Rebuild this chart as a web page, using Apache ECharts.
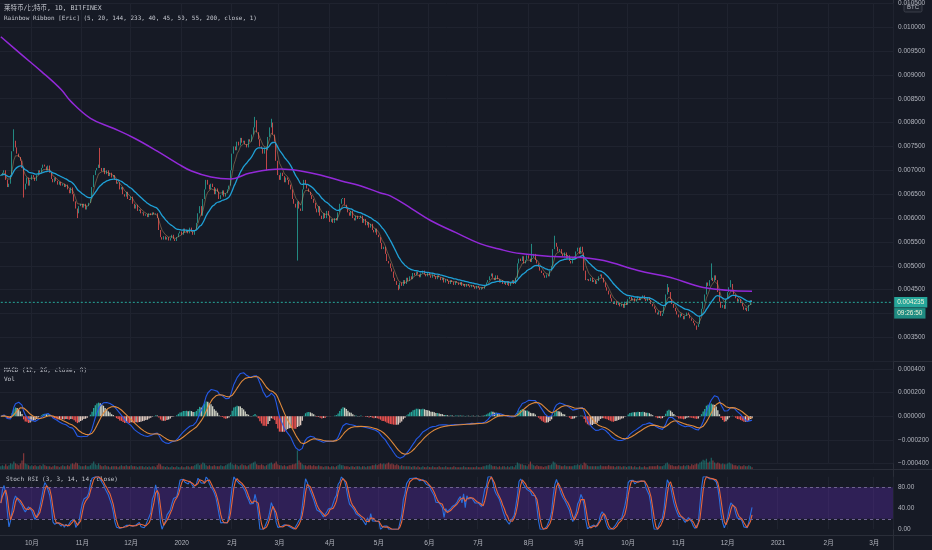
<!DOCTYPE html>
<html><head><meta charset="utf-8">
<script src="https://cdn.jsdelivr.net/npm/echarts@6/dist/echarts.min.js"></script>
<style>html,body{margin:0;padding:0;background:#161a25;}#c{width:932px;height:550px;}</style>
</head><body><div id="c"></div>
<script>
// ---------- data ----------
const startDate = Date.UTC(2019, 8, 12);   // first category day
const dayCount = 548;                       // 2019-09-12 .. 2021-03-12
const firstOpen = 0.00688;
const closes = [
0.00690,0.00695,0.00700,0.00680,0.00665,0.00672,0.00690,0.00740,0.00762,0.00748,
0.00735,0.00728,0.00720,0.00705,0.00660,0.00672,0.00685,0.00668,0.00680,0.00690,
0.00685,0.00678,0.00690,0.00700,0.00695,0.00705,0.00712,0.00708,0.00700,0.00710,
0.00695,0.00682,0.00675,0.00685,0.00678,0.00670,0.00676,0.00668,0.00672,0.00665,
0.00670,0.00660,0.00652,0.00664,0.00650,0.00635,0.00620,0.00610,0.00625,0.00630,
0.00622,0.00630,0.00618,0.00625,0.00632,0.00640,0.00665,0.00690,0.00700,0.00705,
0.00712,0.00705,0.00698,0.00705,0.00692,0.00700,0.00688,0.00695,0.00685,0.00690,
0.00680,0.00672,0.00675,0.00660,0.00665,0.00650,0.00645,0.00655,0.00640,0.00638,
0.00645,0.00630,0.00620,0.00628,0.00615,0.00618,0.00610,0.00612,0.00605,0.00608,
0.00602,0.00610,0.00606,0.00612,0.00608,0.00610,0.00600,0.00575,0.00560,0.00555,
0.00562,0.00555,0.00560,0.00553,0.00558,0.00565,0.00556,0.00552,0.00560,0.00568,
0.00572,0.00565,0.00578,0.00570,0.00575,0.00568,0.00580,0.00572,0.00565,0.00575,
0.00590,0.00610,0.00625,0.00605,0.00640,0.00660,0.00680,0.00670,0.00660,0.00672,
0.00665,0.00650,0.00662,0.00655,0.00640,0.00648,0.00658,0.00645,0.00652,0.00660,
0.00668,0.00700,0.00735,0.00750,0.00742,0.00760,0.00752,0.00768,0.00758,0.00762,
0.00755,0.00748,0.00765,0.00760,0.00775,0.00790,0.00805,0.00780,0.00765,0.00750,
0.00745,0.00735,0.00748,0.00742,0.00770,0.00790,0.00800,0.00775,0.00760,0.00720,
0.00690,0.00680,0.00695,0.00688,0.00675,0.00685,0.00680,0.00670,0.00660,0.00640,
0.00630,0.00622,0.00635,0.00620,0.00615,0.00660,0.00680,0.00670,0.00662,0.00655,
0.00648,0.00640,0.00632,0.00620,0.00612,0.00625,0.00605,0.00598,0.00610,0.00600,
0.00615,0.00605,0.00592,0.00598,0.00590,0.00600,0.00595,0.00612,0.00630,0.00640,
0.00642,0.00628,0.00620,0.00612,0.00605,0.00615,0.00600,0.00595,0.00605,0.00598,
0.00600,0.00605,0.00590,0.00598,0.00585,0.00592,0.00580,0.00588,0.00575,0.00570,
0.00578,0.00565,0.00560,0.00548,0.00535,0.00540,0.00525,0.00510,0.00505,0.00495,
0.00488,0.00475,0.00468,0.00460,0.00452,0.00465,0.00458,0.00470,0.00462,0.00475,
0.00468,0.00478,0.00472,0.00485,0.00480,0.00488,0.00482,0.00476,0.00484,0.00490,
0.00482,0.00478,0.00486,0.00480,0.00475,0.00482,0.00478,0.00472,0.00480,0.00476,
0.00470,0.00475,0.00465,0.00472,0.00468,0.00462,0.00470,0.00466,0.00460,0.00468,
0.00465,0.00460,0.00466,0.00458,0.00462,0.00456,0.00462,0.00458,0.00455,0.00460,
0.00456,0.00452,0.00458,0.00454,0.00450,0.00455,0.00452,0.00458,0.00465,0.00470,
0.00478,0.00484,0.00475,0.00470,0.00480,0.00472,0.00465,0.00470,0.00462,0.00466,
0.00460,0.00468,0.00458,0.00464,0.00470,0.00462,0.00475,0.00505,0.00515,0.00510,
0.00520,0.00505,0.00512,0.00522,0.00515,0.00508,0.00518,0.00525,0.00512,0.00505,
0.00498,0.00490,0.00485,0.00480,0.00475,0.00482,0.00478,0.00490,0.00500,0.00535,
0.00548,0.00540,0.00530,0.00535,0.00525,0.00520,0.00528,0.00515,0.00522,0.00510,
0.00505,0.00515,0.00520,0.00530,0.00538,0.00525,0.00540,0.00528,0.00490,0.00470,
0.00472,0.00468,0.00475,0.00466,0.00470,0.00462,0.00468,0.00478,0.00482,0.00475,
0.00465,0.00455,0.00448,0.00440,0.00432,0.00425,0.00420,0.00426,0.00418,0.00422,
0.00415,0.00420,0.00412,0.00425,0.00418,0.00430,0.00435,0.00428,0.00432,0.00425,
0.00430,0.00435,0.00428,0.00432,0.00438,0.00430,0.00426,0.00434,0.00428,0.00420,
0.00415,0.00410,0.00402,0.00398,0.00405,0.00395,0.00400,0.00415,0.00440,0.00455,
0.00445,0.00430,0.00420,0.00412,0.00405,0.00398,0.00392,0.00400,0.00395,0.00388,
0.00395,0.00402,0.00398,0.00390,0.00385,0.00380,0.00375,0.00372,0.00378,0.00395,
0.00410,0.00425,0.00440,0.00465,0.00458,0.00470,0.00475,0.00468,0.00480,0.00470,
0.00445,0.00425,0.00412,0.00418,0.00410,0.00430,0.00445,0.00455,0.00462,0.00450,
0.00440,0.00432,0.00425,0.00430,0.00422,0.00415,0.00408,0.00412,0.00405,0.00418,
0.00428,0.004235
];
const wickHighs = [
['2019-09-20',0.00786],['2019-11-12',0.00747],['2020-02-15',0.00812],['2020-02-25',0.00808],
['2020-08-03',0.00546],['2020-08-17',0.00563],['2020-10-25',0.00462],['2020-11-21',0.00505],
['2020-12-03',0.00470]
];
const wickLows = [
['2019-09-26',0.00643],['2019-10-29',0.00600],['2020-02-22',0.00700],['2020-03-12',0.00511],
['2020-05-13',0.00449],['2020-11-12',0.00366]
];
const volumes = [
3,4,3,5,3,4,6,5,8,6, 5,4,6,9,17,6,5,4,3,4, 3,4,3,3,4,3,5,4,3,3, 3,2,3,4,3,3,2,3,4,3,
3,4,3,5,6,5,7,6,4,3, 3,3,4,3,3,4,6,8,5,4, 6,4,3,3,4,3,3,2,3,3, 3,3,2,3,4,3,3,4,3,3,
4,3,3,3,2,3,3,3,2,3, 2,3,2,3,3,2,4,6,5,3, 3,2,3,2,2,3,2,2,3,2, 2,3,2,2,3,3,2,3,3,4,
5,6,4,5,7,6,4,3,4,3, 3,4,3,3,3,4,3,3,4,5, 6,7,5,4,5,4,3,4,5,4, 4,3,4,5,6,7,8,5,4,4,
5,4,3,4,5,6,7,5,6,8, 5,4,4,3,4,3,3,4,4,5, 5,6,20,9,7,5,4,4,3,4, 4,3,4,3,3,4,3,3,2,3,
3,3,2,3,3,2,3,4,5,4, 4,3,3,3,2,3,3,2,3,3, 3,2,3,3,2,3,3,3,4,4, 5,4,5,6,5,6,5,6,7,5,
6,5,4,5,4,3,4,3,3,3, 3,3,2,3,3,2,3,2,2,3, 2,2,3,2,2,3,2,2,2,3, 2,2,2,3,2,2,2,2,3,2,
2,2,2,2,3,2,2,2,2,2, 2,2,3,2,2,2,3,3,4,4, 5,4,3,3,3,2,3,2,3,3, 2,3,2,3,3,2,4,7,6,5,
5,4,4,3,5,8,5,4,3,4, 3,3,3,2,3,3,4,4,5,8, 7,5,4,4,3,3,4,3,3,3, 3,3,4,4,5,4,5,4,7,6,
4,3,3,3,3,3,3,3,4,3, 3,3,3,4,3,3,3,2,3,3, 3,2,3,3,2,3,3,3,2,3, 2,2,3,2,2,3,2,2,3,3,
3,3,3,4,3,3,3,4,6,7, 5,4,4,3,3,3,4,3,3,4, 3,4,4,3,5,4,5,6,5,7, 8,10,9,11,7,8,12,9,7,6,
7,6,5,6,5,5,6,7,6,5, 4,4,3,4,3,3,4,3,3,4, 3,2
];
// 200-period ribbon line
const ma200Points = [
['2019-09-12',0.009798],['2019-09-24',0.009444],['2019-10-07',0.009069],['2019-10-19',0.008694],
['2019-10-25',0.008444],['2019-11-06',0.008090],['2019-11-20',0.007881],['2019-12-03',0.007673],
['2019-12-17',0.007402],['2019-12-30',0.007131],['2020-01-07',0.006985],['2020-01-19',0.006860],
['2020-01-31',0.006819],['2020-02-12',0.006944],['2020-03-02',0.007027],['2020-03-14',0.006985],
['2020-03-26',0.006902],['2020-04-08',0.006777],['2020-04-20',0.006673],['2020-05-02',0.006527],
['2020-05-08',0.006465],['2020-05-21',0.006200],['2020-06-02',0.005944],['2020-06-17',0.005700],
['2020-07-02',0.005465],['2020-07-15',0.005340],['2020-07-27',0.005256],['2020-08-16',0.005194],
['2020-09-02',0.005173],['2020-09-16',0.005110],['2020-10-07',0.004902],['2020-10-27',0.004756],
['2020-11-16',0.004548],['2020-12-16',0.004465]
];
const timerText = '09:26:50';
const quoteUnit = 'BTC';
const titleText = '莱特币/比特币, 1D, BITFINEX';
const ribbonText = 'Rainbow Ribbon [Eric] (5, 20, 144, 233, 40, 45, 50, 55, 200, close, 1)';
const macdText = 'MACD (12, 26, close, 9)';
const volText = 'Vol';
const stochText = 'Stoch RSI (3, 3, 14, 14, close)';

// ---------- build ----------
const cats = [];
for (let i = 0; i < dayCount; i++) cats.push(new Date(startDate + i * 864e5).toISOString().slice(0, 10));
const idx = {}; cats.forEach((d, i) => idx[d] = i);
const hiMap = {}; wickHighs.forEach(([d, v]) => hiMap[idx[d]] = v);
const loMap = {}; wickLows.forEach(([d, v]) => loMap[idx[d]] = v);

const ohlc = closes.map((c, i) => {
  const o = i === 0 ? firstOpen : closes[i - 1];
  let h = Math.max(o, c), l = Math.min(o, c);
  if (hiMap[i] !== undefined) h = Math.max(h, hiMap[i]);
  if (loMap[i] !== undefined) l = Math.min(l, loMap[i]);
  return [o, c, l, h];
});

function ema(a, n) { const k = 2 / (n + 1); const out = []; let p = a[0]; a.forEach((v, i) => { p = i === 0 ? v : v * k + p * (1 - k); out.push(p); }); return out; }
function sma(a, n) { return a.map((v, i) => { const s = a.slice(Math.max(0, i - n + 1), i + 1); return s.reduce((x, y) => x + y, 0) / s.length; }); }

const ema5 = ema(closes, 5), ema20 = ema(closes, 20);
const e12 = ema(closes, 12), e26 = ema(closes, 26);
const macdLine = e12.map((v, i) => v - e26[i]);
const signal = ema(macdLine, 9);
const hist = macdLine.map((v, i) => v - signal[i]);
const histData = hist.map((h, i) => {
  const p = i ? hist[i - 1] : 0;
  const col = h >= 0 ? (h >= p ? '#26a69a' : '#cfd2c4') : (h < p ? '#ef5350' : '#e2cbc0');
  return { value: h, itemStyle: { color: col } };
});
const volData = volumes.map((v, i) => ({ value: v, itemStyle: { color: ohlc[i][1] >= ohlc[i][0] ? 'rgba(38,166,154,0.5)' : 'rgba(239,83,80,0.5)' } }));

// Stoch RSI (3,3,14,14)
const rsi = [50]; { let ag = 0, al = 0; for (let i = 1; i < closes.length; i++) { const ch = closes[i] - closes[i - 1]; const g = Math.max(ch, 0), l = Math.max(-ch, 0); if (i <= 14) { ag = (ag * (i - 1) + g) / i; al = (al * (i - 1) + l) / i; } else { ag = (ag * 13 + g) / 14; al = (al * 13 + l) / 14; } rsi.push(al === 0 ? 100 : 100 - 100 / (1 + ag / al)); } }
const stochRaw = rsi.map((v, i) => { const w = rsi.slice(Math.max(0, i - 13), i + 1); const mn = Math.min(...w), mx = Math.max(...w); return mx === mn ? 50 : (v - mn) / (mx - mn) * 100; });
const kLine = sma(stochRaw, 3), dLine = sma(kLine, 3);

const lastClose = closes[closes.length - 1];
const lastIdx = closes.length - 1;
const AX = 'Liberation Sans, "Noto Sans CJK SC", sans-serif';
const MONO = '"DejaVu Sans Mono", "Noto Sans CJK SC", monospace';
const LBL = '#b2b5be';
const GRIDC = '#1f232f';
const isMonth = (i, v) => v.slice(8) === '01';

function xAx(gi, showLabel) {
  return {
    type: 'category', gridIndex: gi, data: cats, boundaryGap: true,
    axisLine: { show: false }, axisTick: { show: false },
    axisLabel: showLabel ? {
      show: true, interval: isMonth, margin: 11, color: LBL, fontSize: 6.5, fontFamily: AX,
      formatter: v => { const p = v.split('-'); return p[1] === '01' ? p[0] : (+p[1]) + '月'; }
    } : { show: false },
    splitLine: { show: true, interval: isMonth, lineStyle: { color: GRIDC, width: 1 } }
  };
}
const fmt6 = v => (v < 0 ? '\u2212' : '') + Math.abs(v).toFixed(6);

const option = {
  backgroundColor: '#161a25',
  animation: false,
  grid: [
    { left: 0, width: 893, top: 1.3, height: 360 },
    { left: 0, width: 893, top: 369.1, height: 94.2 },
    { left: 0, width: 893, top: 441, height: 28 },
    { left: 0, width: 893, top: 476.8, height: 52.5 }
  ],
  xAxis: [xAx(0, false), xAx(1, false), { ...xAx(2, false), splitLine: { show: false } }, xAx(3, true)],
  yAxis: [
    { type: 'value', gridIndex: 0, position: 'right', min: 0.003, max: 0.0105, interval: 0.0005,
      axisLine: { show: false }, axisTick: { show: false },
      axisLabel: { color: LBL, fontSize: 6.5, fontFamily: AX, margin: 5, showMinLabel: false, formatter: v => v.toFixed(6) },
      splitLine: { lineStyle: { color: GRIDC } } },
    { type: 'value', gridIndex: 1, position: 'right', min: -0.0004, max: 0.0004, interval: 0.0002,
      axisLine: { show: false }, axisTick: { show: false },
      axisLabel: { color: LBL, fontSize: 6.5, fontFamily: AX, margin: 5, formatter: fmt6 },
      splitLine: { lineStyle: { color: GRIDC } } },
    { type: 'value', gridIndex: 2, min: 0, max: 30, show: false, splitLine: { show: false } },
    { type: 'value', gridIndex: 3, position: 'right', min: 0, max: 100, interval: 40,
      axisLine: { show: false }, axisTick: { show: false },
      axisLabel: { color: LBL, fontSize: 6.5, fontFamily: AX, margin: 5, showMaxLabel: false, formatter: v => v.toFixed(2) },
      splitLine: { show: false } }
  ],
  series: [
    { type: 'candlestick', xAxisIndex: 0, yAxisIndex: 0, data: ohlc, barWidth: '72%',
      itemStyle: { color: '#26a69a', color0: '#ef5350', borderColor: '#26a69a', borderColor0: '#ef5350', borderWidth: 0.8 } },
    { type: 'line', xAxisIndex: 0, yAxisIndex: 0, data: ema5, symbol: 'none', lineStyle: { color: '#d4a46c', width: 0.8, opacity: 0.55 } },
    { type: 'line', xAxisIndex: 0, yAxisIndex: 0, data: ema20, symbol: 'none', smooth: 0.3, lineStyle: { color: '#1fa0d6', width: 1.3 } },
    { type: 'line', xAxisIndex: 0, yAxisIndex: 0, data: ma200Points.map(([d, v]) => [idx[d], v]), symbol: 'none', smooth: 0.4, lineStyle: { color: '#9329d8', width: 1.5 } },
    // last-price line and its axis tag
    { type: 'line', xAxisIndex: 0, yAxisIndex: 0, data: [[0, lastClose], [dayCount - 1, lastClose]], symbol: 'none', silent: true,
      lineStyle: { color: '#26a69a', type: [2, 2], width: 1 },
      endLabel: { show: true, distance: 2, offset: [0, 5.5],
        formatter: () => '{p|' + lastClose.toFixed(6) + '}\n{t|' + timerText + '}',
        rich: {
          p: { backgroundColor: '#26a69a', color: '#f0f3d8', fontSize: 6.5, fontFamily: AX, padding: [2, 3, 2, 3], lineHeight: 11 },
          t: { backgroundColor: '#1f8c82', color: '#f0f3d8', fontSize: 6.5, fontFamily: AX, padding: [2, 3, 2, 3], lineHeight: 11 }
        } } },
    { type: 'bar', xAxisIndex: 1, yAxisIndex: 1, data: histData, barWidth: '80%', clip: false },
    { type: 'line', xAxisIndex: 1, yAxisIndex: 1, data: macdLine, symbol: 'none', clip: false, lineStyle: { color: '#2459e6', width: 1.1 } },
    { type: 'line', xAxisIndex: 1, yAxisIndex: 1, data: signal, symbol: 'none', clip: false, lineStyle: { color: '#e08a3c', width: 1.1 } },
    { type: 'bar', xAxisIndex: 2, yAxisIndex: 2, data: volData, barWidth: '75%' },
    { type: 'line', xAxisIndex: 3, yAxisIndex: 3, data: kLine, symbol: 'none', lineStyle: { color: '#2a6fe0', width: 1.1 },
      markArea: { silent: true, itemStyle: { color: 'rgba(104,48,190,0.32)' }, data: [[{ yAxis: 20 }, { yAxis: 80 }]] },
      markLine: { silent: true, symbol: ['none', 'none'], label: { show: false }, lineStyle: { color: '#6f6390', type: [3, 3], width: 1 }, data: [{ yAxis: 80 }, { yAxis: 20 }] } },
    { type: 'line', xAxisIndex: 3, yAxisIndex: 3, data: dLine, symbol: 'none', lineStyle: { color: '#e8663a', width: 1.1 } }
  ],
  graphic: [
    { type: 'line', shape: { x1: 0, y1: 361.5, x2: 932, y2: 361.5 }, style: { stroke: '#2a2e39', lineWidth: 1 } },
    { type: 'line', shape: { x1: 0, y1: 469.5, x2: 932, y2: 469.5 }, style: { stroke: '#2a2e39', lineWidth: 1 } },
    { type: 'line', shape: { x1: 0, y1: 535.5, x2: 932, y2: 535.5 }, style: { stroke: '#2a2e39', lineWidth: 1 } },
    { type: 'line', shape: { x1: 893.5, y1: 0, x2: 893.5, y2: 550 }, style: { stroke: '#2a2e39', lineWidth: 1 } },
    { type: 'text', x: 4, y: 8, style: { text: titleText, fill: '#c3c6ce', fontSize: 6.5, fontFamily: MONO, verticalAlign: 'middle' } },
    { type: 'text', x: 4, y: 18.5, style: { text: ribbonText, fill: '#c3c6ce', fontSize: 6, fontFamily: MONO, verticalAlign: 'middle' } },
    { type: 'text', x: 4, y: 370.5, style: { text: macdText, fill: '#c3c6ce', fontSize: 6, fontFamily: MONO, verticalAlign: 'middle' } },
    { type: 'text', x: 4, y: 379, style: { text: volText, fill: '#c3c6ce', fontSize: 6, fontFamily: MONO, verticalAlign: 'middle' } },
    { type: 'text', x: 6, y: 479.5, style: { text: stochText, fill: '#c3c6ce', fontSize: 6, fontFamily: MONO, verticalAlign: 'middle' } },
    { type: 'rect', shape: { x: 904, y: 3, width: 18, height: 9, r: 1.5 }, style: { fill: '#1e222d', stroke: '#434651', lineWidth: 0.8 } },
    { type: 'text', x: 913, y: 7.5, style: { text: quoteUnit, fill: '#b2b5be', fontSize: 6, fontFamily: AX, align: 'center', verticalAlign: 'middle' } }
  ]
};
echarts.init(document.getElementById('c')).setOption(option);
</script>
</body></html>
